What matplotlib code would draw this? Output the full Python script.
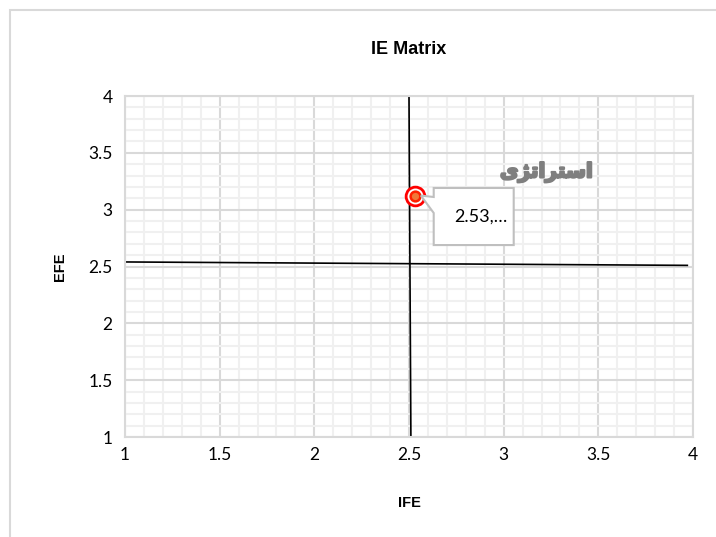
import matplotlib
matplotlib.use("Agg")
from matplotlib import pyplot as plt
from matplotlib.patches import Rectangle, Polygon
from matplotlib.transforms import Affine2D, ScaledTranslation
import matplotlib.patheffects as pe
import numpy as np

# data
ife = [2.53]
efe = [3.12]
point_label = "2.53,\u2026"
series_name = "استراتژی"
# pre-shaped visual form of the series name (matplotlib has no arabic shaping)
series_name_shaped = "\uFBFC\uFB8B\uFE97\uFE8D\uFEAE\uFE98\uFEB3\uFE8D"
hline_x = [1, 3.97]
hline_y = [2.54, 2.51]
vline_x = [2.5, 2.51]
vline_y = [4, 1]
x_ticks = [1, 1.5, 2, 2.5, 3, 3.5, 4]
y_ticks = [1, 1.5, 2, 2.5, 3, 3.5, 4]

plt.rcParams['font.family'] = ['Lato', 'DejaVu Sans']
bold_font = ['Liberation Sans', 'DejaVu Sans']

fig = plt.figure(figsize=(7.16, 5.37), dpi=100)
ax = fig.add_axes([125 / 716, 1 - 437 / 537, 568 / 716, 341 / 537])

# outer chart frame
fig.patches.append(Rectangle((10 / 716, -0.1), 1.2, 1.1 - 10 / 537,
                             transform=fig.transFigure, fill=False,
                             ec='#d9d9d9', lw=1.5))

ax.set_xlim(1, 4)
ax.set_ylim(1, 4)
ax.set_xticks(x_ticks)
ax.set_yticks(y_ticks)
ax.set_xticklabels([f"{v:g}" for v in x_ticks])
ax.set_yticklabels([f"{v:g}" for v in y_ticks])
ax.set_xticks(np.arange(1, 4.01, 0.1), minor=True)
ax.set_yticks(np.arange(1, 4.01, 0.1), minor=True)
ax.tick_params(which='both', length=0, labelsize=12.5, colors='#000000')
ax.tick_params(axis='y', pad=9)
ax.tick_params(axis='x', pad=7)
ax.grid(which='minor', color='#f0f0f0', lw=1.5)
ax.grid(which='major', color='#d9d9d9', lw=1.5)
ax.set_axisbelow(True)
for s in ax.spines.values():
    s.set_color('#d9d9d9')
    s.set_linewidth(1.5)

ax.plot(hline_x, hline_y, color='black', lw=1.2)
ax.plot(vline_x, vline_y, color='black', lw=1.2)

# marker with glow-like rings
ax.plot(ife, efe, 'o', ms=13.5, mfc='white', mec='#ff0000', mew=2, zorder=5)
ax.plot(ife, efe, 'o', ms=7, mfc='#f07838', mec='#ff2000', mew=1.8, zorder=6)

# callout shape, in points relative to the data point
callout_tr = (Affine2D().scale(1 / 72) + fig.dpi_scale_trans
              + ScaledTranslation(ife[0], efe[0], ax.transData))
callout = Polygon([(13.7, 5.8), (71.3, 5.8), (71.3, -35.3), (13.7, -35.3),
                   (13.7, -12.2), (4.5, 0.3), (13.7, -0.7)], closed=True,
                  transform=callout_tr, fc='white', ec='#bfbfbf', lw=1.5,
                  joinstyle='miter', zorder=7)
ax.add_patch(callout)
ax.annotate(point_label, (ife[0], efe[0]), xytext=(47.5, -15),
            textcoords='offset points', ha='center', va='center',
            fontsize=13, color='#000000', zorder=8)

ax.annotate(series_name_shaped, (ife[0], efe[0]), xytext=(95, 17),
            textcoords='offset points', ha='center', va='center',
            fontsize=14.5, fontweight='bold', color='#7f7f7f',
            family='DejaVu Sans', zorder=8,
            path_effects=[pe.withStroke(linewidth=1.6, foreground='#7f7f7f')])

ax.set_title("IE Matrix", fontsize=13, fontweight='bold', family=bold_font, pad=30)
ax.set_xlabel("IFE", fontsize=10.5, fontweight='bold', family=bold_font, labelpad=24)
ax.set_ylabel("EFE", fontsize=10.5, fontweight='bold', family=bold_font, labelpad=15)

plt.savefig('out.png', dpi=100)
